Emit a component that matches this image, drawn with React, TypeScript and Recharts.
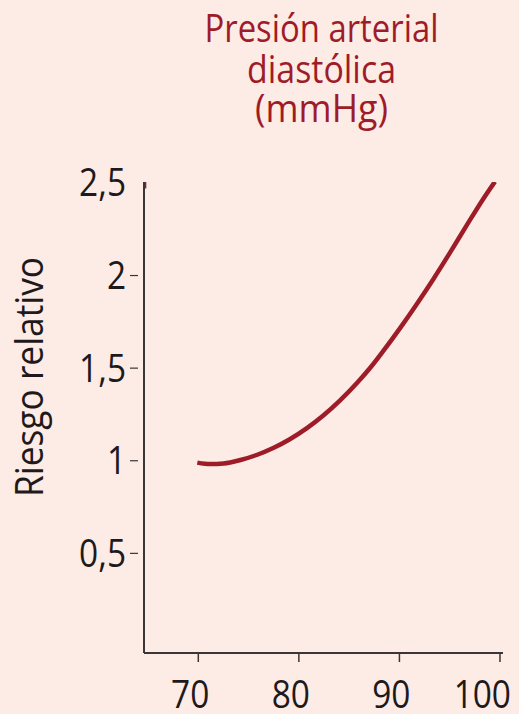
import React from 'react';
import { LineChart, Line, XAxis, YAxis, ReferenceLine } from 'recharts';

const FONT = "'Open Sans', 'Noto Sans', sans-serif";
const RED = '#9d1c28';
const AXIS = '#3a3536';
const INK = '#1e1a1b';
const BG = '#fdebe6';
const SQUEEZE = 0.88;

// presión diastólica (mmHg) and riesgo relativo
const pressure = [69.9, 71.2, 72.5, 74.2, 75.8, 77.5, 79.1, 80.8, 82.4, 84.1, 85.8, 87.1, 88.4, 90.1, 91.7, 93.4, 95.0, 96.7, 98.3, 99.5];
const risk = [0.99, 0.982, 0.985, 1.004, 1.031, 1.07, 1.116, 1.176, 1.243, 1.326, 1.421, 1.502, 1.593, 1.719, 1.844, 1.983, 2.121, 2.272, 2.411, 2.507];

const xTicks = [70, 80, 90, 100];
const yTicks = [0.5, 1, 1.5, 2, 2.5];

const titleLines = ['Presión arterial', 'diastólica', '(mmHg)'];
const yLabel = 'Riesgo relativo';

const data = pressure.map((p, i) => ({ p, r: risk[i] }));

const fmt = (v: number) => String(v).replace('.', ',');

const YTick = (props: any) => {
  const { x, y, payload } = props;
  return (
    <g>
      <g transform={`translate(${x - 10},${y + 13.5}) scale(${SQUEEZE},1)`}>
        <text x={0} y={0} textAnchor="end" fontSize={38} fontFamily={FONT} fill={INK}>
          {fmt(payload.value)}
        </text>
      </g>
      {payload.value !== 2.5 && <line x1={x - 6} x2={x + 2} y1={y} y2={y} stroke={AXIS} strokeWidth={1.2} />}
    </g>
  );
};

const XTick = (props: any) => {
  const { x, y, payload } = props;
  return (
    <g transform={`translate(${x + 11},${y + 44}) scale(${SQUEEZE},1)`}>
      <text x={0} y={0} textAnchor="end" fontSize={38} fontFamily={FONT} fill={INK}>
        {payload.value}
      </text>
    </g>
  );
};

export default function App() {
  return (
    <div style={{ position: 'absolute', left: 0, top: 0, width: 519, height: 714, background: BG, overflow: 'hidden' }}>
      <LineChart width={519} height={714} data={data} margin={{ top: 182, right: 16, left: 0, bottom: 0 }}>
        <XAxis
          dataKey="p" type="number" domain={[64.6, 100.3]} ticks={xTicks} height={61}
          axisLine={{ stroke: AXIS, strokeWidth: 2 }} tickLine={{ stroke: AXIS, strokeWidth: 1.5 }} tickSize={9}
          tick={<XTick />} interval={0} allowDataOverflow
        />
        <YAxis
          dataKey="r" type="number" domain={[-0.038, 2.505]} ticks={yTicks} width={144}
          axisLine={{ stroke: AXIS, strokeWidth: 2 }} tickLine={false}
          tick={<YTick />} interval={0} allowDataOverflow
        />
        <ReferenceLine segment={[{ x: 64.68, y: 2.47 }, { x: 64.68, y: 2.505 }]} stroke={RED} strokeWidth={3} ifOverflow="visible" />
        <Line type="monotone" dataKey="r" stroke={RED} strokeWidth={4.5} dot={false} isAnimationActive={false} />
      </LineChart>
      <svg width={519} height={714} style={{ position: 'absolute', left: 0, top: 0, pointerEvents: 'none' }}>
        <text x={321.5} y={42} textAnchor="middle" fontSize={39} fontFamily={FONT} fill={RED} textLength={234} lengthAdjust="spacingAndGlyphs">
          {titleLines[0]}
        </text>
        <text x={321.5} y={83} textAnchor="middle" fontSize={39} fontFamily={FONT} fill={RED} textLength={149} lengthAdjust="spacingAndGlyphs">
          {titleLines[1]}
        </text>
        <text x={321.5} y={122} textAnchor="middle" fontSize={39} fontFamily={FONT} fill={RED} textLength={133} lengthAdjust="spacingAndGlyphs">
          {titleLines[2]}
        </text>
        <text
          x={0} y={0} transform="translate(43,377) rotate(-90)" textAnchor="middle" fontSize={39} fontFamily={FONT} fill={INK}
          textLength={240} lengthAdjust="spacingAndGlyphs"
        >
          {yLabel}
        </text>
      </svg>
    </div>
  );
}
